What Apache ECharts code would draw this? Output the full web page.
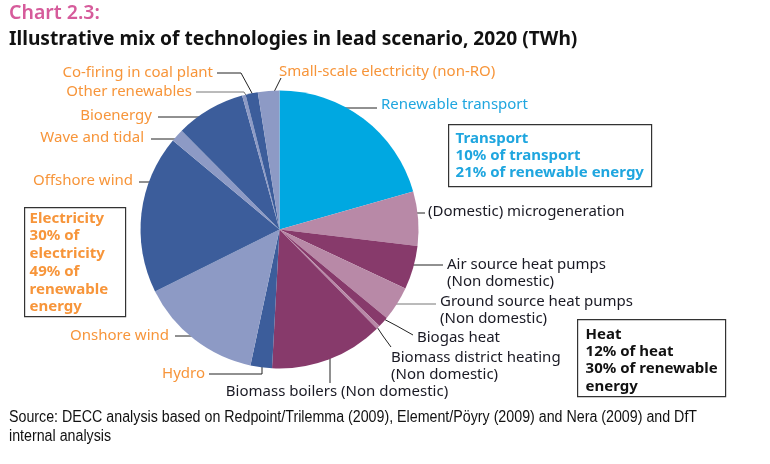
<!DOCTYPE html>
<html>
<head>
<meta charset="utf-8">
<script src="https://cdn.jsdelivr.net/npm/echarts@6/dist/echarts.min.js"></script>
<style>
html,body{margin:0;padding:0;background:#fff;}
#chart{width:770px;height:464px;}
</style>
</head>
<body>
<div id="chart"></div>
<script>
// ---- Data (TWh) ----
const categories = [
  'Renewable transport',
  '(Domestic) microgeneration',
  'Air source heat pumps\n(Non domestic)',
  'Ground source heat pumps\n(Non domestic)',
  'Biogas heat',
  'Biomass district heating\n(Non domestic)',
  'Biomass boilers (Non domestic)',
  'Hydro',
  'Onshore wind',
  'Offshore wind',
  'Wave and tidal',
  'Bioenergy',
  'Other renewables',
  'Co-firing in coal plant',
  'Small-scale electricity (non-RO)'
];
const values = [49.4, 15.1, 12.2, 9.6, 3.0, 1.0, 31.7, 6.0, 34.3, 44.2, 3.6, 19.4, 1.0, 3.4, 6.0];
const sectors = ['transport','heat','heat','heat','heat','heat','heat','elec','elec','elec','elec','elec','elec','elec','elec'];
const shades  = ['a','light','dark','light','dark','light','dark','dark','light','dark','light','dark','light','dark','light'];

const boxTransport = ['Transport', '10% of transport', '21% of renewable energy'];
const boxElectricity = ['Electricity', '30% of', 'electricity', '49% of', 'renewable', 'energy'];
const boxHeat = ['Heat', '12% of heat', '30% of renewable', 'energy'];
const chartNo = 'Chart 2.3:';
const chartTitle = 'Illustrative mix of technologies in lead scenario, 2020 (TWh)';
const sourceLines = ['Source: DECC analysis based on Redpoint/Trilemma (2009), Element/Pöyry (2009) and Nera (2009) and DfT', 'internal analysis'];

// ---- Styles ----
const palette = {
  transport: {a: '#00a8e1'},
  heat: {light: '#b889a7', dark: '#873a6b'},
  elec: {light: '#8d9ac5', dark: '#3c5d9b'}
};
const textColor = {transport: '#1fa6df', heat: '#1a1a24', elec: '#f7953a'};

// label placement (annotation layout)
const labelLayoutCfg = [
  {x: 381, y: 105, align: 'left',   line: [[339,108],[358,108],[377,108]]},
  {x: 428, y: 212, align: 'left',   line: [[413,213],[419,213],[425,213]]},
  {x: 447, y: 273, align: 'left',   line: [[411,265],[427,265],[443,265]]},
  {x: 440, y: 310, align: 'left',   line: [[395,304],[416,304],[436,304]]},
  {x: 417, y: 338, align: 'left',   line: [[380,317],[397,326],[413,335]]},
  {x: 391, y: 366, align: 'left',   line: [[375,324],[383,336],[391,347]]},
  {x: 337, y: 392, align: 'center', line: [[330,353],[330,368],[330,383]]},
  {x: 205, y: 374, align: 'right',  line: [[262,363],[262,374],[209,374]]},
  {x: 169, y: 336, align: 'right',  line: [[199,336],[187,336],[175,336]]},
  {x: 133, y: 181, align: 'right',  line: [[158,182],[148,182],[139,182]]},
  {x: 144, y: 138, align: 'right',  line: [[182,139],[166,139],[151,139]]},
  {x: 152, y: 116, align: 'right',  line: [[203,117],[180,117],[158,117]]},
  {x: 192, y: 92,  align: 'right',  line: [[247,97],[244,92],[196,92]]},
  {x: 213, y: 73,  align: 'right',  line: [[253,95],[241,73],[217,73]]},
  {x: 279, y: 72,  align: 'left',   line: [[273,94],[277,86],[281,78]]}
];

const FONT = '"Noto Sans", "DejaVu Sans", sans-serif';

const pieData = categories.map((name, i) => ({
  name: name,
  value: values[i],
  itemStyle: {color: palette[sectors[i]][shades[i]]},
  label: {color: textColor[sectors[i]]},
  labelLine: {lineStyle: {color: i === 12 || i === 3 ? '#777' : '#222'}}
}));

function boxGraphic(lines, left, top, w, h, color, tx, ty, lh) {
  return {
    type: 'group', left: left, top: top,
    children: [
      {type: 'rect', shape: {x: 0, y: 0, width: w, height: h},
       style: {fill: '#fff', stroke: '#333', lineWidth: 1.2}},
      {type: 'text', x: tx, y: ty,
       style: {text: lines.join('\n'), fill: color, font: 'bold 15px ' + FONT, lineHeight: lh}}
    ]
  };
}

const chart = echarts.init(document.getElementById('chart'), null, {renderer: 'canvas'});
chart.setOption({
  animation: false,
  backgroundColor: '#fff',
  graphic: [
    {type: 'text', left: 9, top: 3, style: {text: chartNo, fill: '#d65b9b', font: '600 19.5px ' + FONT}},
    {type: 'text', left: 9, top: 30, style: {text: chartTitle, fill: '#111', font: 'bold 19.2px ' + FONT}},
    {type: 'text', left: 9, top: 408, scaleX: 0.89, style: {text: sourceLines.join('\n'), fill: '#111', font: '16px "Liberation Sans", sans-serif', lineHeight: 19}},
    boxGraphic(boxTransport, 448, 124, 203, 62, textColor.transport, 7, 5, 17.4),
    boxGraphic(boxElectricity, 24, 207, 101, 109, textColor.elec, 5, 2, 17.7),
    boxGraphic(boxHeat, 577, 319, 148, 77, '#111', 8, 6, 17.4)
  ],
  series: [{
    type: 'pie',
    center: [279.5, 229.5],
    radius: 139,
    startAngle: 90,
    clockwise: true,
    avoidLabelOverlap: false,
    silent: true,
    itemStyle: {borderWidth: 0},
    label: {
      show: true,
      position: 'outside',
      fontFamily: FONT,
      fontSize: 15,
      lineHeight: 17,
      formatter: '{b}'
    },
    labelLine: {show: true, length: 10, length2: 10, lineStyle: {width: 1}},
    labelLayout: function (params) {
      const c = labelLayoutCfg[params.dataIndex];
      return {
        x: c.x, y: c.y, align: c.align, verticalAlign: 'middle',
        labelLinePoints: c.line
      };
    },
    data: pieData
  }]
});
</script>
</body>
</html>
